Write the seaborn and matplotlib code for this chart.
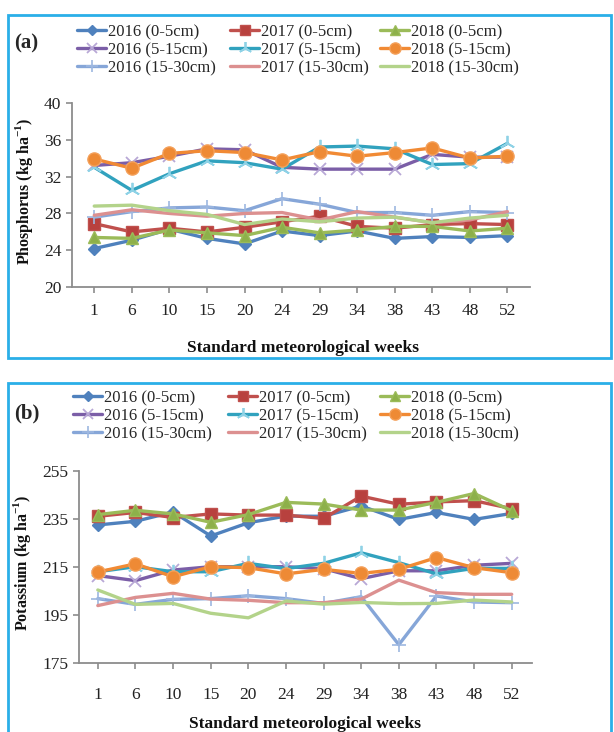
import numpy as np
import pandas as pd
import seaborn as sns
import matplotlib.pyplot as plt
from matplotlib.lines import Line2D
from matplotlib.patches import Rectangle

# ---------------- data ----------------
weeks = ['1', '6', '10', '15', '20', '24', '29', '34', '38', '43', '48', '52']

labels = ['2016 (0-5cm)', '2017 (0-5cm)', '2018 (0-5cm)',
          '2016 (5-15cm)', '2017 (5-15cm)', '2018 (5-15cm)',
          '2016 (15-30cm)', '2017 (15-30cm)', '2018 (15-30cm)']

# Phosphorus (kg ha-1)
p16_0_5 = [24.2, 25.1, 26.3, 25.3, 24.7, 26.1, 25.6, 26.1, 25.3, 25.5, 25.4, 25.6]
p17_0_5 = [26.9, 26.0, 26.4, 26.0, 26.5, 27.1, 27.7, 26.6, 26.4, 26.8, 26.9, 26.8]
p18_0_5 = [25.4, 25.3, 26.2, 25.9, 25.6, 26.5, 25.9, 26.2, 26.6, 26.6, 26.1, 26.4]
p16_5_15 = [33.2, 33.5, 34.2, 35.0, 34.9, 33.0, 32.8, 32.8, 32.8, 34.4, 34.1, 34.1]
p17_5_15 = [33.0, 30.5, 32.3, 33.7, 33.5, 32.8, 35.2, 35.3, 35.0, 33.3, 33.4, 35.6]
p18_5_15 = [33.9, 32.9, 34.5, 34.8, 34.6, 33.8, 34.7, 34.2, 34.6, 35.1, 34.0, 34.2]
p16_15_30 = [27.6, 28.2, 28.6, 28.7, 28.3, 29.6, 29.0, 28.1, 28.1, 27.8, 28.2, 28.1]
p17_15_30 = [27.8, 28.4, 28.0, 27.7, 28.0, 28.1, 27.3, 28.2, 27.6, 27.0, 27.3, 28.2]
p18_15_30 = [28.8, 28.9, 28.3, 27.9, 26.8, 27.4, 27.1, 27.5, 27.6, 27.0, 27.5, 27.8]

# Potassium (kg ha-1)
k16_0_5 = [232.4, 233.9, 237.8, 227.8, 233.3, 236.1, 236.0, 240.3, 234.7, 237.6, 234.7, 237.2]
k17_0_5 = [236.0, 237.6, 235.5, 237.0, 236.5, 236.5, 235.1, 244.4, 241.0, 242.0, 242.5, 239.2]
k18_0_5 = [236.7, 238.5, 237.0, 233.5, 236.7, 241.8, 241.1, 238.6, 238.6, 241.8, 245.5, 238.3]
k16_5_15 = [211.3, 209.2, 213.6, 215.0, 215.0, 215.0, 214.2, 210.0, 213.3, 213.3, 215.6, 216.4]
k17_5_15 = [212.9, 215.0, 212.9, 212.9, 216.4, 214.2, 216.4, 220.8, 216.7, 212.0, 214.3, 214.3]
k18_5_15 = [212.8, 216.2, 210.8, 215.0, 214.6, 212.0, 213.9, 212.2, 213.9, 218.8, 214.6, 212.5]
k16_15_30 = [201.7, 199.3, 201.4, 201.7, 202.9, 201.7, 199.7, 202.5, 182.5, 202.8, 200.3, 200.0]
k17_15_30 = [198.8, 202.2, 203.9, 201.5, 201.0, 200.0, 200.0, 201.5, 209.4, 204.2, 203.5, 203.5]
k18_15_30 = [205.3, 199.3, 199.7, 195.6, 193.7, 200.7, 199.4, 200.1, 199.6, 199.7, 201.1, 200.3]

p_series = [p16_0_5, p17_0_5, p18_0_5, p16_5_15, p17_5_15, p18_5_15, p16_15_30, p17_15_30, p18_15_30]
k_series = [k16_0_5, k17_0_5, k18_0_5, k16_5_15, k17_5_15, k18_5_15, k16_15_30, k17_15_30, k18_15_30]

p_ticks = [20, 24, 28, 32, 36, 40]
k_ticks = [175, 195, 215, 235, 255]

# ---------------- styles ----------------
styles = [
    dict(color='#4F81BD', marker='D', markersize=6.5, mfc='#4F81BD', mec='#4F81BD', mew=1.0),
    dict(color='#C0504D', marker='s', markersize=8, mfc='#B8413E', mec='#C0504D', mew=1.0),
    dict(color='#9BBB59', marker='^', markersize=8.5, mfc='#8DB04A', mec='#9BBB59', mew=1.0),
    dict(color='#7B5EA7', marker='x', markersize=9, mfc='none', mec='#B8A8D6', mew=1.3),
    dict(color='#31A2BE', marker=(3, 2, 0), markersize=11, mfc='none', mec='#8ED2E6', mew=1.3),
    dict(color='#F18A34', marker='o', markersize=9.5, mfc='#EE8A35', mec='#F4A05A', mew=1.0),
    dict(color='#86A6D8', marker='+', markersize=10, mfc='none', mec='#9DB7E0', mew=1.2),
    dict(color='#DC9090', marker='', markersize=0, mfc='none', mec='#DC9090', mew=1.0),
    dict(color='#B3D38A', marker='', markersize=0, mfc='none', mec='#B3D38A', mew=1.0),
]

# ---------------- theme ----------------
sns.set_theme(style='white')
plt.rcParams['font.family'] = ['Liberation Serif', 'DejaVu Serif']
plt.rcParams['mathtext.fontset'] = 'custom'
plt.rcParams['mathtext.rm'] = 'Liberation Serif'
plt.rcParams['mathtext.bf'] = 'Liberation Serif:bold'

W, H = 614, 732
fig = plt.figure(figsize=(W / 100, H / 100), dpi=100)
fig.patch.set_facecolor('white')


def fx(px):
    return px / W


def fy(py):
    return 1 - py / H


ax_a = fig.add_axes([fx(71.7), fy(287.3), fx(530 - 71.7), (287.3 - 102.7) / H])
ax_b = fig.add_axes([fx(79), fy(662.7), fx(532.4 - 79), (662.7 - 470.7) / H])

xpos = np.arange(len(weeks))
LW = 2.4


def draw(ax, series, ticks, xlim, xpad):
    for vals, st in zip(series, styles):
        df = pd.DataFrame({'x': xpos, 'y': vals})
        kw = dict(color=st['color'], linewidth=LW, legend=False, ax=ax)
        if st['marker']:
            kw.update(marker=st['marker'], markersize=st['markersize'],
                      markerfacecolor=st['mfc'], markeredgecolor=st['mec'],
                      markeredgewidth=st['mew'])
        sns.lineplot(data=df, x='x', y='y', **kw)
    ax.set_xlim(*xlim)
    ax.set_ylim(ticks[0], ticks[-1])
    ax.set_yticks(ticks)
    ax.set_xticks(xpos)
    ax.set_xticklabels(weeks)
    ax.set_xlabel('')
    ax.set_ylabel('')
    for s in ['top', 'right']:
        ax.spines[s].set_visible(False)
    for s in ['left', 'bottom']:
        ax.spines[s].set_color('#8C8C8C')
        ax.spines[s].set_linewidth(1.3)
    ax.tick_params(axis='y', direction='out', length=4.5, width=1.2, color='#8C8C8C',
                   labelsize=12.5, pad=3, labelcolor='#222222', left=True)
    ax.tick_params(axis='x', direction='out', length=4.5, width=1.2, color='#8C8C8C',
                   labelsize=12.5, pad=xpad, labelcolor='#222222', bottom=True)
    ax.set_facecolor('none')
    ax.grid(False)


draw(ax_a, p_series, p_ticks, (-0.6, 11.6), 7)
draw(ax_b, k_series, k_ticks, (-0.5, 11.55), 13)

ax_a.set_ylabel('Phosphorus (kg ha$^{\\mathbf{-1}}$)', fontsize=11.5, fontweight='bold',
                color='#111111', va='center')
ax_a.yaxis.set_label_coords((24 - 71.7) / (530 - 71.7), 0.52)
ax_b.set_ylabel('Potassium (kg ha$^{\\mathbf{-1}}$)', fontsize=11.5, fontweight='bold',
                color='#111111', va='center')
ax_b.yaxis.set_label_coords((22 - 79) / (532.4 - 79), 0.52)

fig.text(fx(303), fy(348), 'Standard meteorological weeks', fontsize=12.5,
         fontweight='bold', ha='center', va='center', color='#111111')
fig.text(fx(305), fy(724), 'Standard meteorological weeks', fontsize=12.5,
         fontweight='bold', ha='center', va='center', color='#111111')

fig.text(fx(14), fy(43), '(a)', fontsize=15, fontweight='bold', ha='left', va='center')
fig.text(fx(14), fy(413), '(b)', fontsize=15, fontweight='bold', ha='left', va='center')


# ---------------- legends (one per column) ----------------
def make_handle(st, lab):
    if st['marker']:
        return Line2D([], [], color=st['color'], linewidth=LW, marker=st['marker'],
                      markersize=st['markersize'] * 0.85, markerfacecolor=st['mfc'],
                      markeredgecolor=st['mec'], markeredgewidth=st['mew'], label=lab)
    return Line2D([], [], color=st['color'], linewidth=LW, label=lab)


handles = [make_handle(st, lab) for st, lab in zip(styles, labels)]


def legends(col_x, mid_y):
    for c in range(3):
        hs = [handles[c], handles[3 + c], handles[6 + c]]
        fig.legend(handles=hs, loc='center left',
                   bbox_to_anchor=(fx(col_x[c]), fy(mid_y)),
                   frameon=False, fontsize=12, borderpad=0, borderaxespad=0,
                   handlelength=1.75, handletextpad=0.1, labelspacing=0.12,
                   numpoints=1)


legends([77, 230, 380], 50)
legends([73, 228, 380], 416)

# ---------------- panel borders ----------------
border = '#2AAFE8'
fig.patches.append(Rectangle((fx(8), fy(358)), fx(611 - 8), (358 - 15) / H,
                             transform=fig.transFigure, fill=False,
                             edgecolor=border, linewidth=2.0, zorder=10))
fig.patches.append(Rectangle((fx(8), fy(745)), fx(611 - 8), (745 - 383) / H,
                             transform=fig.transFigure, fill=False,
                             edgecolor=border, linewidth=2.0, zorder=10))

fig.savefig('out.png', dpi=100)
